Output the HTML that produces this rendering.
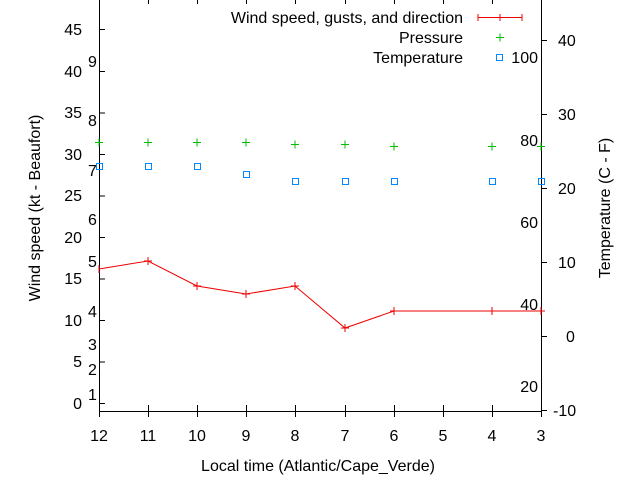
<!DOCTYPE html>
<html><head><meta charset="utf-8"><style>
body{margin:0;background:#fff}
svg{display:block;font-family:"Liberation Sans",sans-serif;font-size:16px}
</style></head><body>
<svg width="640" height="480" viewBox="0 0 640 480">
<rect width="640" height="480" fill="#fff"/>
<g stroke="#000" stroke-width="1" fill="none">
<path d="M99.5,0V411.5H541.5V0"/>
<path d="M99,403.5h6M99,362h6M99,320.5h6M99,279h6M99,237.5h6M99,196h6M99,154.5h6M99,113h6M99,71.5h6M99,29.5h6"/>
<path d="M541,40.5h6M541,114.5h6M541,188.5h6M541,262.5h6M541,336.5h6M541,410.5h6"/>
<path d="M148.5,411v-6M197.5,411v-6M246.5,411v-6M295.5,411v-6M345.5,411v-6M394.5,411v-6M443.5,411v-6M492.5,411v-6"/>
<path d="M99.5,411v6M148.5,411v6M197.5,411v6M246.5,411v6M295.5,411v6M345.5,411v6M394.5,411v6M443.5,411v6M492.5,411v6M541.5,411v6"/>
<path d="M148.5,0v4M197.5,0v4M246.5,0v4M295.5,0v4M345.5,0v4M394.5,0v4M443.5,0v4M492.5,0v4"/>
</g>
<g text-anchor="end" fill="#000">
<text x="82" y="35">45</text><text x="82" y="77">40</text><text x="82" y="118">35</text>
<text x="82" y="160">30</text><text x="82" y="201">25</text><text x="82" y="243">20</text>
<text x="82" y="284">15</text><text x="82" y="326">10</text><text x="82" y="367">5</text><text x="82" y="409">0</text>
</g>
<g fill="#000">
<text x="88" y="67">9</text><text x="88" y="126">8</text><text x="88" y="176">7</text>
<text x="88" y="225">6</text><text x="88" y="267">5</text><text x="88" y="317">4</text>
<text x="88" y="350">3</text><text x="88" y="375">2</text><text x="88" y="400">1</text>
</g>
<g text-anchor="end" fill="#000">
<text x="538" y="63">100</text><text x="538" y="146">80</text><text x="538" y="228">60</text>
<text x="538" y="310">40</text><text x="538" y="392">20</text>
</g>
<g fill="#000">
<text x="558" y="46">40</text><text x="558" y="120">30</text><text x="558" y="194">20</text>
<text x="558" y="268">10</text><text x="566" y="342">0</text><text x="553" y="416">-10</text>
</g>
<g text-anchor="middle" fill="#000">
<text x="99" y="441">12</text><text x="148" y="441">11</text><text x="197" y="441">10</text>
<text x="246" y="441">9</text><text x="295" y="441">8</text><text x="345" y="441">7</text>
<text x="394" y="441">6</text><text x="443" y="441">5</text><text x="492" y="441">4</text><text x="541" y="441">3</text>
<text x="318" y="471">Local time (Atlantic/Cape_Verde)</text>
<text transform="translate(40,208) rotate(-90)">Wind speed (kt - Beaufort)</text>
<text transform="translate(610,208) rotate(-90)">Temperature (C - F)</text>
</g>
<g text-anchor="end" fill="#000">
<text x="463" y="23">Wind speed, gusts, and direction</text>
<text x="463" y="43">Pressure</text>
<text x="463" y="63">Temperature</text>
</g>
<g stroke="#e00" fill="none">
<path d="M478,17.5h44M478,14v7M522,14v7M500,14v7"/>
<polyline points="99,269 148,261 197,286 246,294 295,286 345,328 394,311 443,311 492,311 541,311"/>
<path d="M144,261h8M148,257v8M193,286h8M197,282v8M242,294h8M246,290v8M291,286h8M295,282v8M341,328h8M345,324v8M390,311h8M394,307v8M488,311h8M492,307v8M537,311h8M541,307v8M99,265v8"/>
</g>
<g stroke="#0b0" fill="none">
<path d="M496,37.5h8M500,33.5v8"/>
<path d="M95,142.5h8M99,138.5v8M144,142.5h8M148,138.5v8M193,142.5h8M197,138.5v8M242,142.5h8M246,138.5v8M291,144.5h8M295,140.5v8M341,144.5h8M345,140.5v8M390,146.5h8M394,142.5v8M488,146.5h8M492,142.5v8M537,146.5h8M541,142.5v8"/>
</g>
<g stroke="#08f" fill="none">
<rect x="496.5" y="54.5" width="6" height="6"/>
<rect x="96.5" y="163.5" width="6" height="6"/><rect x="145.5" y="163.5" width="6" height="6"/>
<rect x="194.5" y="163.5" width="6" height="6"/><rect x="243.5" y="171.5" width="6" height="6"/>
<rect x="292.5" y="178.5" width="6" height="6"/><rect x="342.5" y="178.5" width="6" height="6"/>
<rect x="391.5" y="178.5" width="6" height="6"/><rect x="489.5" y="178.5" width="6" height="6"/>
<rect x="538.5" y="178.5" width="6" height="6"/>
</g>
</svg>
</body></html>
